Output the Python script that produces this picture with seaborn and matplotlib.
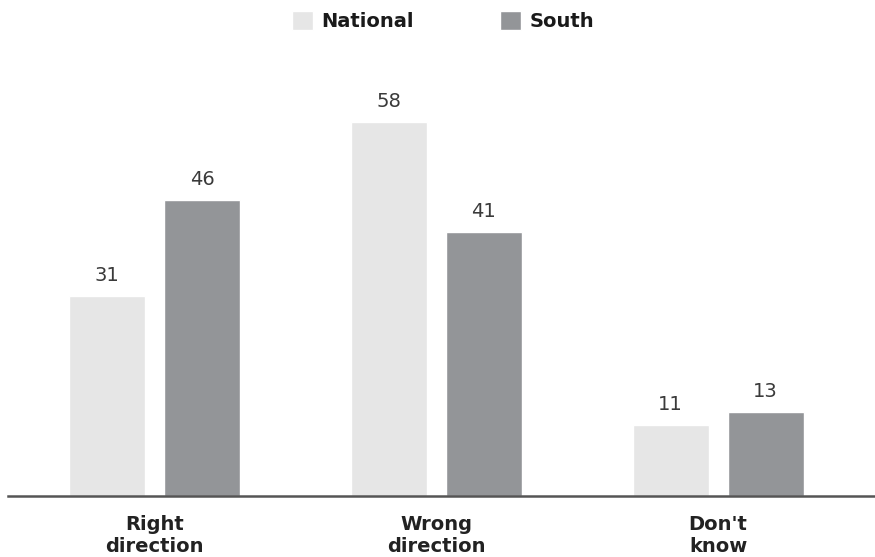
import matplotlib
matplotlib.use("Agg")
import matplotlib.pyplot as plt
import seaborn as sns
import pandas as pd

categories = ["Right\ndirection", "Wrong\ndirection", "Don't\nknow"]
groups = ["National", "South"]
national = [31, 58, 11]
south = [46, 41, 13]

df = pd.DataFrame({
    "category": categories * 2,
    "group": [groups[0]] * 3 + [groups[1]] * 3,
    "value": national + south,
})

sns.set_theme(style="white")
plt.rcParams["font.family"] = ["DejaVu Sans"]

W, H = 875, 557
fig = plt.figure(figsize=(W / 100, H / 100), dpi=100)
ax = fig.add_axes([8 / W, (H - 496) / H, (W - 8) / W, (496 - 40) / H])

palette = {"National": "#e6e6e6", "South": "#939598"}
sns.barplot(data=df, x="category", y="value", hue="group", order=categories,
            hue_order=groups, palette=palette, width=0.674, gap=0.2,
            saturation=1, ax=ax, legend=True)

ax.set_xlim(-0.52, 2.557)
ax.set_ylim(0, 456 / 6.44)

for cont in ax.containers:
    ax.bar_label(cont, labels=[f"{v:g}" for v in cont.datavalues], padding=8,
                 fontsize=14, color="#3a3a3a")

ax.set_xlabel("")
ax.set_ylabel("")
ax.set_yticks([])
ax.tick_params(axis="x", length=0, pad=14)
for lab in ax.get_xticklabels():
    lab.set_fontsize(14)
    lab.set_fontweight("bold")
    lab.set_color("#222222")
    lab.set_linespacing(1.15)
for side in ["left", "right", "top"]:
    ax.spines[side].set_visible(False)
ax.spines["bottom"].set_color("#555555")
ax.spines["bottom"].set_linewidth(1.8)

handles, labels = ax.get_legend_handles_labels()
ax.legend_.remove()
leg = fig.legend(handles, labels, loc="upper center", ncol=2, frameon=False,
                 bbox_to_anchor=(443 / W, 1 + 6 / H),
                 handlelength=1.1, handleheight=1.1, handletextpad=0.45,
                 columnspacing=4.4, prop={"weight": "bold", "size": 14})
for t in leg.get_texts():
    t.set_color("#1a1a1a")

fig.savefig("out.png", dpi=100)
